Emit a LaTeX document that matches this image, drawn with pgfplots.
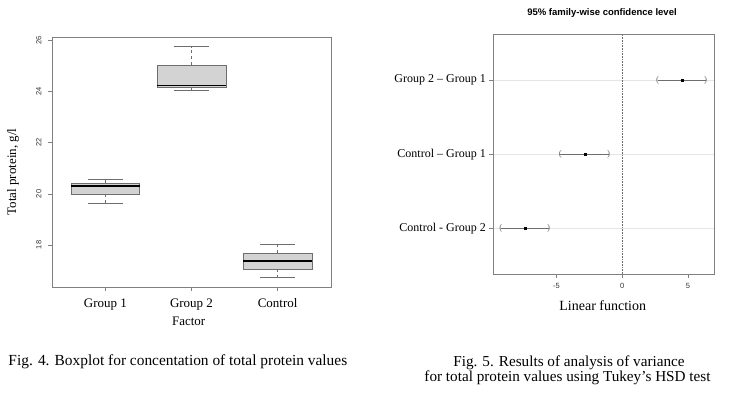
\documentclass[border=0pt]{standalone}
\usepackage{pgfplots}
\pgfplotsset{compat=1.18}
\usepackage{fontspec}
\setmainfont{Liberation Serif}
\newfontfamily\arial{Liberation Sans}
\definecolor{boxfill}{HTML}{D3D3D3}
\definecolor{edge}{HTML}{6E6E6E}
\definecolor{axgray}{HTML}{808080}
\definecolor{tickgray}{HTML}{333333}

\begin{document}
\begin{tikzpicture}[x=1pt,y=1pt]
\useasboundingbox (0,0) rectangle (729,399);

% ---------------- Fig. 4: boxplot ----------------
\begin{axis}[
  at={(52pt,112pt)}, anchor=south west, scale only axis,
  width=279pt, height=250pt,
  xmin=0.38, xmax=3.62, ymin=16.35, ymax=26.145,
  axis line style={axgray, line width=0.7pt},
  xtick={1,2,3}, xticklabels={Group 1, Group 2, Control},
  ytick={18,20,22,24,26},
  xtick pos=bottom, ytick pos=left,
  tick align=outside, major tick length=4pt,
  tick style={axgray, line width=0.6pt},
  /pgf/number format/assume math mode=true,
  yticklabel shift=3pt,
  yticklabel style={font=\arial\fontsize{7.5}{8}\selectfont, text=tickgray, rotate=90, anchor=south},
  xticklabel style={font=\fontsize{13}{14}\selectfont, anchor=base, yshift=-17pt},
  xlabel={Factor},
  xlabel style={font=\fontsize{13}{14}\selectfont, at={(axis description cs:0.49,-0.139)}, anchor=center},
  ylabel={Total protein, g/l},
  ylabel style={font=\fontsize{13}{14}\selectfont, at={(axis description cs:-0.14,0.46)}, anchor=center, rotate=0},
  clip=false,
]
% Group 1
\addplot[edge, dashed, line width=0.6pt] coordinates {(1,20.41) (1,20.56)};
\addplot[edge, dashed, line width=0.6pt] coordinates {(1,19.98) (1,19.64)};
\addplot[edge, line width=0.8pt] coordinates {(0.8,20.56) (1.2,20.56)};
\addplot[edge, line width=0.8pt] coordinates {(0.8,19.64) (1.2,19.64)};
\addplot[draw=edge, fill=boxfill, line width=0.8pt] coordinates {(0.6,19.98) (1.4,19.98) (1.4,20.41) (0.6,20.41)} -- cycle;
\addplot[black, line width=1.6pt] coordinates {(0.6,20.30) (1.4,20.30)};
% Group 2
\addplot[edge, dashed, line width=0.6pt] coordinates {(2,25.03) (2,25.77)};
\addplot[edge, dashed, line width=0.6pt] coordinates {(2,24.17) (2,24.04)};
\addplot[edge, line width=0.8pt] coordinates {(1.8,25.77) (2.2,25.77)};
\addplot[edge, line width=0.8pt] coordinates {(1.8,24.04) (2.2,24.04)};
\addplot[draw=edge, fill=boxfill, line width=0.8pt] coordinates {(1.6,24.17) (2.4,24.17) (2.4,25.03) (1.6,25.03)} -- cycle;
\addplot[black, line width=1.6pt] coordinates {(1.6,24.25) (2.4,24.25)};
% Control
\addplot[edge, dashed, line width=0.6pt] coordinates {(3,17.67) (3,18.00)};
\addplot[edge, dashed, line width=0.6pt] coordinates {(3,17.05) (3,16.74)};
\addplot[edge, line width=0.8pt] coordinates {(2.8,18.00) (3.2,18.00)};
\addplot[edge, line width=0.8pt] coordinates {(2.8,16.74) (3.2,16.74)};
\addplot[draw=edge, fill=boxfill, line width=0.8pt] coordinates {(2.6,17.05) (3.4,17.05) (3.4,17.67) (2.6,17.67)} -- cycle;
\addplot[black, line width=1.6pt] coordinates {(2.6,17.37) (3.4,17.37)};
\end{axis}

% ---------------- Fig. 5: Tukey HSD ----------------
\begin{axis}[
  at={(493.3pt,125pt)}, anchor=south west, scale only axis,
  width=220.7pt, height=239.7pt,
  xmin=-9.80, xmax=6.97, ymin=0.38, ymax=3.62,
  axis line style={axgray, line width=0.7pt},
  ytick={1,2,3},
  yticklabels={Control - Group 2, Control -- Group 1, Group 2 -- Group 1},
  xtick={-5,0,5},
  xtick pos=bottom, ytick pos=left,
  tick align=outside, major tick length=4pt,
  tick style={axgray, line width=0.6pt},
  ymajorgrids, major grid style={black!10, line width=0.6pt},
  /pgf/number format/assume math mode=true,
  xticklabel shift=2pt,
  xticklabel style={font=\arial\fontsize{7.5}{8}\selectfont, text=tickgray},
  yticklabel style={font=\fontsize{12}{13}\selectfont},
  xlabel={Linear function},
  xlabel style={font=\fontsize{14}{15}\selectfont, at={(axis description cs:0.496,-0.132)}, anchor=center},
  title={95\% family-wise confidence level},
  title style={font=\arial\bfseries\fontsize{9.5}{10}\selectfont, at={(axis description cs:0.4925,1.064)}, anchor=center},
  clip=false,
]
\addplot[densely dotted, edge, line width=0.6pt] coordinates {(0,0.38) (0,3.62)};
\addplot[edge, line width=0.8pt] coordinates {(2.69,3) (6.34,3)};
\addplot[edge, line width=0.8pt] coordinates {(-4.71,2) (-1.03,2)};
\addplot[edge, line width=0.8pt] coordinates {(-9.22,1) (-5.59,1)};
\addplot[only marks, mark=text, text mark={(}, text mark as node=true, text mark style={font=\fontsize{9}{9}\selectfont, text=edge, anchor=center, inner sep=0pt}] coordinates {(2.69,3) (-4.71,2) (-9.22,1)};
\addplot[only marks, mark=text, text mark={)}, text mark as node=true, text mark style={font=\fontsize{9}{9}\selectfont, text=edge, anchor=center, inner sep=0pt}] coordinates {(6.34,3) (-1.03,2) (-5.59,1)};
\addplot[only marks, mark=square*, mark size=1pt, black] coordinates {(4.56,3) (-2.83,2) (-7.39,1)};
\end{axis}

% ---------------- captions ----------------
\node[anchor=base west, inner sep=0pt, font=\fontsize{15.4}{17}\selectfont] at (8.3,33.3) {Fig. 4. Boxplot for concentation of total protein values};
\node[anchor=base, inner sep=0pt, font=\fontsize{15.2}{17}\selectfont] at (569,32.3) {Fig. 5. Results of analysis of variance};
\node[anchor=base, inner sep=0pt, font=\fontsize{15.2}{17}\selectfont] at (567.5,17.3) {for total protein values using Tukey’s HSD test};
\end{tikzpicture}
\end{document}
